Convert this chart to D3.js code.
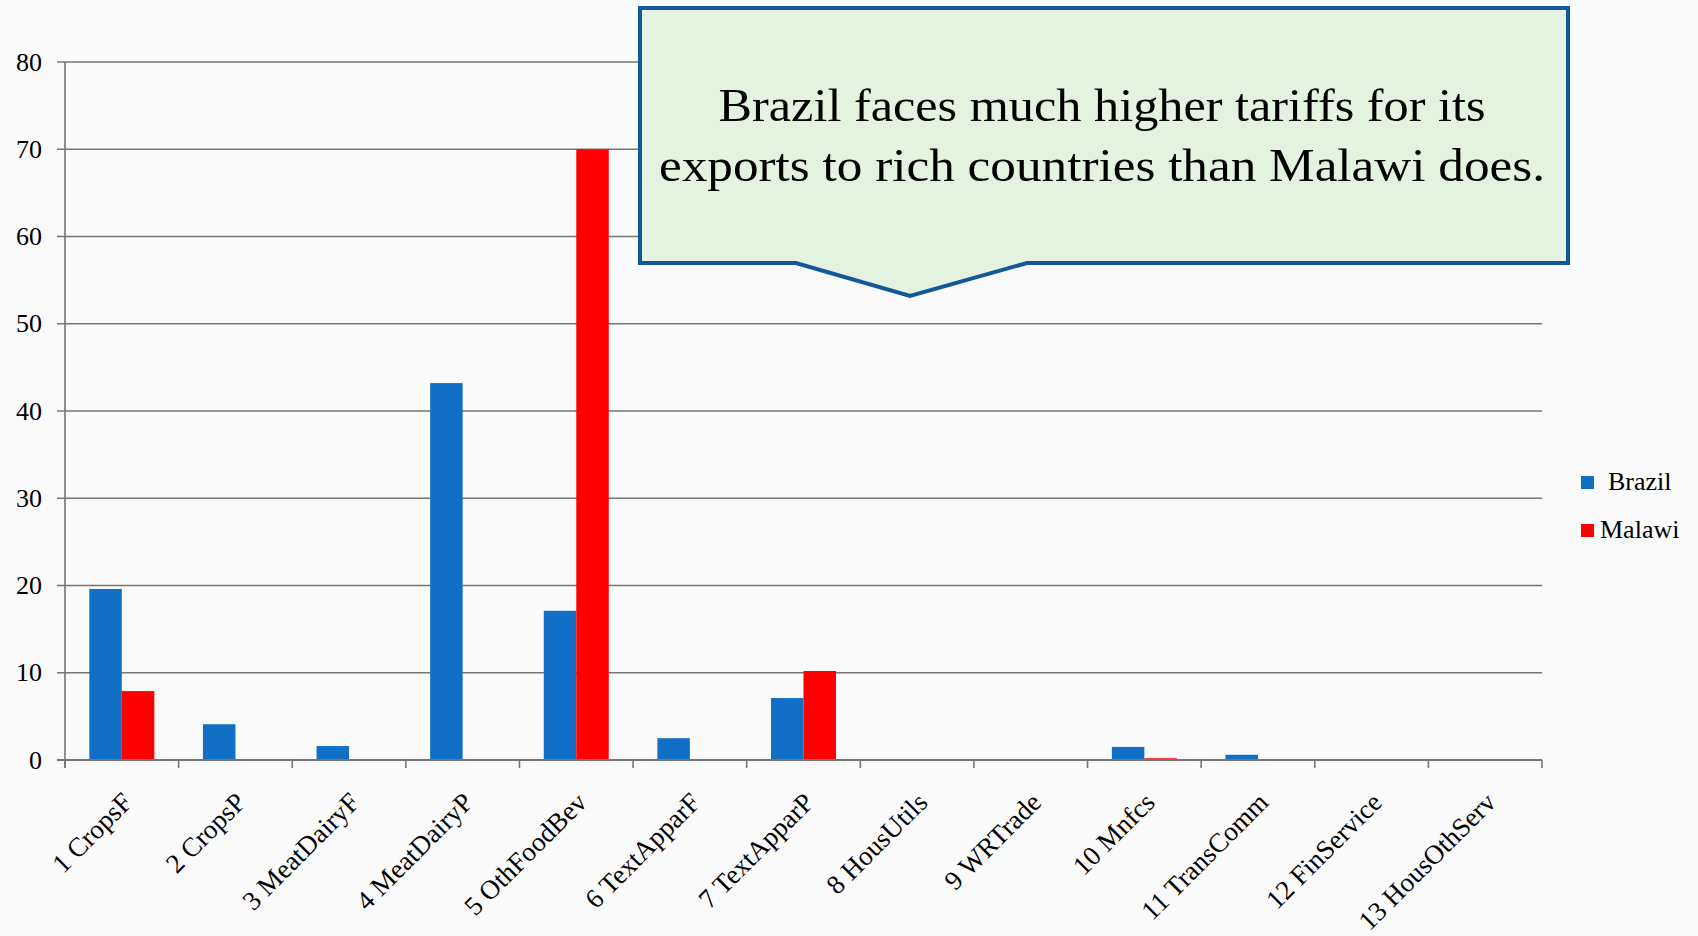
<!DOCTYPE html>
<html><head><meta charset="utf-8">
<script src="https://cdn.jsdelivr.net/npm/d3@7"></script>
<style>
html,body{margin:0;padding:0;background:#fafafa;}
svg{display:block;}
text{font-family:"Liberation Serif","DejaVu Serif",serif;fill:#000;}
</style></head>
<body>
<script>
const categories = ["1 CropsF","2 CropsP","3 MeatDairyF","4 MeatDairyP","5 OthFoodBev","6 TextApparF","7 TextApparP","8 HousUtils","9 WRTrade","10 Mnfcs","11 TransComm","12 FinService","13 HousOthServ"];
const seriesNames = ["Brazil","Malawi"];
const brazil = [19.6, 4.1, 1.6, 43.2, 17.1, 2.5, 7.1, 0, 0, 1.5, 0.6, 0, 0];
const malawi = [7.9, 0, 0, 0, 70.0, 0, 10.2, 0, 0, 0.2, 0, 0, 0];
const yTicks = [0,10,20,30,40,50,60,70,80];
const colors = ["#116fc6","#ff0000"];
const calloutLines = ["Brazil faces much higher tariffs for its","exports to rich countries than Malawi does."];

const W = 1698, H = 936;
const svg = d3.select("body").append("svg").attr("width", W).attr("height", H);
svg.append("rect").attr("width", W).attr("height", H).attr("fill", "#fafafa");

const x0 = d3.scaleBand().domain(categories).range([65, 1542]).padding(0);
const bw = x0.bandwidth();
const x1 = d3.scaleBand().domain(seriesNames).range([bw*0.214, bw*0.786]).padding(0);
const y = d3.scaleLinear().domain([0, 80]).range([760, 62]);

// gridlines
const grid = svg.append("g");
grid.selectAll("line").data(yTicks).join("line")
  .attr("x1", 57).attr("x2", 1542)
  .attr("y1", d => y(d)).attr("y2", d => y(d))
  .attr("stroke", "#767676").attr("stroke-width", 1.6);

// y labels
svg.append("g").selectAll("text").data(yTicks).join("text")
  .attr("x", 42).attr("y", d => y(d)).attr("dy", "0.33em")
  .attr("text-anchor", "end").attr("font-size", 26).text(d => d);

// bars
const data = categories.map((c, i) => ({c, vals: [brazil[i], malawi[i]]}));
const groups = svg.append("g").selectAll("g").data(data).join("g")
  .attr("transform", d => `translate(${x0(d.c)},0)`);
groups.selectAll("rect").data(d => d.vals.map((v, j) => ({s: seriesNames[j], v, j})))
  .join("rect")
  .attr("x", d => x1(d.s)).attr("width", x1.bandwidth())
  .attr("y", d => y(d.v)).attr("height", d => y(0) - y(d.v))
  .attr("fill", d => colors[d.j]);

// y axis line
svg.append("line").attr("x1", 65).attr("x2", 65).attr("y1", y(80)).attr("y2", 768)
  .attr("stroke", "#767676").attr("stroke-width", 1.6);
// x axis
svg.append("line").attr("x1", 57).attr("x2", 1542).attr("y1", y(0)).attr("y2", y(0))
  .attr("stroke", "#767676").attr("stroke-width", 2);
const tickPos = categories.map(c => x0(c)).concat([x0(categories[categories.length-1]) + bw]);
svg.append("g").selectAll("line").data(tickPos).join("line")
  .attr("x1", d => d).attr("x2", d => d).attr("y1", y(0)).attr("y2", y(0) + 8)
  .attr("stroke", "#767676").attr("stroke-width", 1.6);

// x labels
svg.append("g").selectAll("text").data(categories).join("text")
  .attr("transform", d => `translate(${x0(d) + bw/2 + 12},${y(0) + 44}) rotate(-45)`)
  .attr("text-anchor", "end").attr("font-size", 27).text(d => d);

// legend
const leg = svg.append("g");
const legY = [476, 524];
const legTextX = [1608, 1600];
seriesNames.forEach((s, i) => {
  leg.append("rect").attr("x", 1581).attr("y", legY[i]).attr("width", 13).attr("height", 13).attr("fill", colors[i]);
  leg.append("text").attr("x", legTextX[i]).attr("y", legY[i] + 14).attr("font-size", 26).text(s);
});

// callout
const path = d3.path();
path.moveTo(640, 8); path.lineTo(1568, 8); path.lineTo(1568, 263);
path.lineTo(1027, 263); path.lineTo(910, 296); path.lineTo(796, 263);
path.lineTo(640, 263); path.closePath();
svg.append("path").attr("d", path.toString()).attr("fill", "#e4f2e0")
  .attr("stroke", "#13579b").attr("stroke-width", 4).attr("stroke-linejoin", "miter");
const lineW = [767, 886];
svg.append("g").selectAll("text").data(calloutLines).join("text")
  .attr("x", 1102).attr("y", (d, i) => 121 + i*60)
  .attr("text-anchor", "middle").attr("font-size", 46)
  .attr("textLength", (d, i) => lineW[i]).attr("lengthAdjust", "spacingAndGlyphs")
  .text(d => d);
</script>
</body></html>
